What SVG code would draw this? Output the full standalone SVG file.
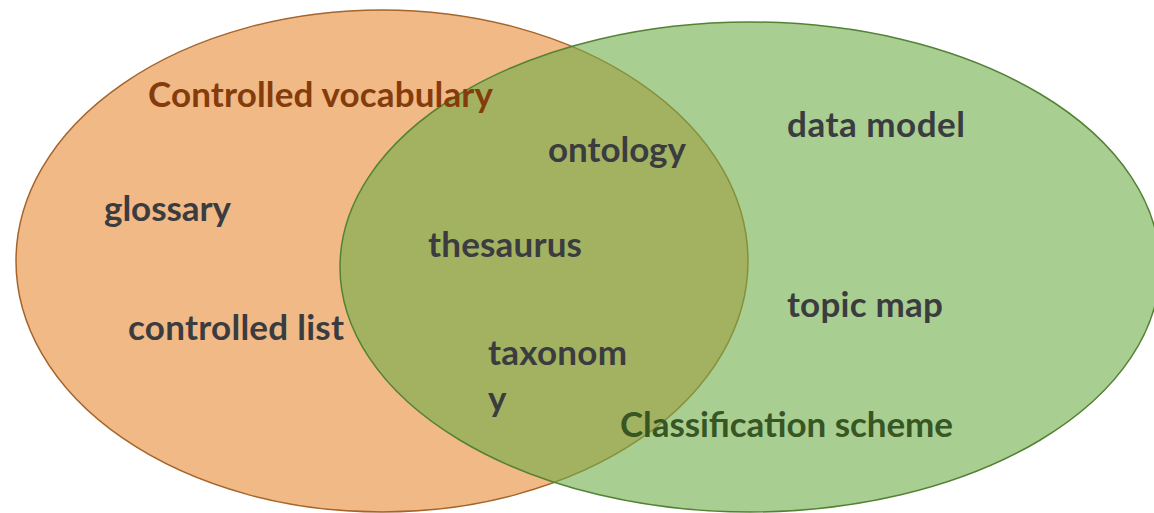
<svg xmlns="http://www.w3.org/2000/svg" width="1154" height="513" viewBox="0 0 1154 513">
<style>
text{font-family:Lato,"Open Sans","Liberation Sans",sans-serif;font-weight:bold;font-size:35px;fill:#3A3C40}
.cv{fill:#843C0C}
.cs{fill:#375623}
</style>
<rect width="1154" height="513" fill="#ffffff"/>
<g id="controlled-vocabulary">
<ellipse cx="382" cy="261" rx="366" ry="251" fill="#F0B985" stroke="#A5642A" stroke-width="1.5"/>
</g>
<g id="classification-scheme">
<ellipse cx="750" cy="267" rx="410" ry="245" fill="#70AD47" fill-opacity="0.6" stroke="#548235" stroke-width="1.5"/>
</g>
<g id="labels">
<text class="cv" x="148" y="107" textLength="345">Controlled vocabulary</text>
<text x="104" y="221" textLength="127">glossary</text>
<text x="128" y="340" textLength="216">controlled list</text>
<text x="548" y="162" textLength="138">ontology</text>
<text x="787" y="137" textLength="178">data model</text>
<text x="428" y="257" textLength="154">thesaurus</text>
<text x="787" y="317" textLength="156">topic map</text>
<text x="488" y="365" textLength="139">taxonom</text>
<text x="488" y="411">y</text>
<text class="cs" x="620" y="437" textLength="333">Classification scheme</text>
</g>
</svg>
